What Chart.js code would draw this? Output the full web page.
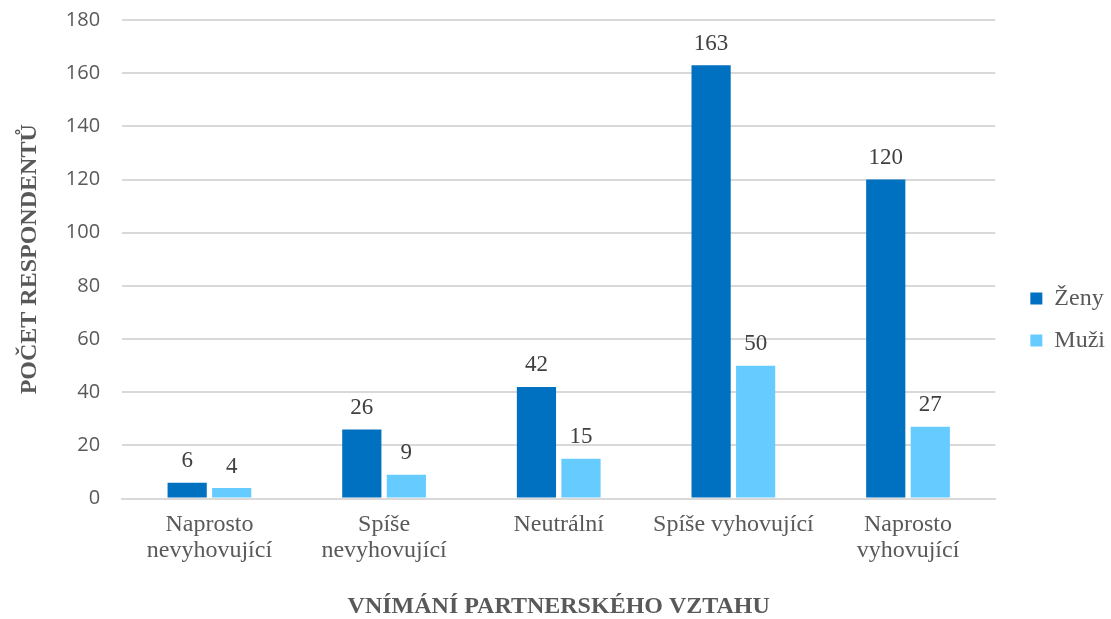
<!DOCTYPE html>
<html>
<head>
<meta charset="utf-8">
<script src="https://cdn.jsdelivr.net/npm/chart.js@4/dist/chart.umd.min.js"></script>
<style>
  html, body { margin: 0; padding: 0; background: #fff; }
  #wrap { width: 1111px; height: 619px; }
</style>
</head>
<body>
<div id="wrap"><canvas id="partnerChart"></canvas></div>
<script>
const categories = [
    ['Naprosto', 'nevyhovující'],
    ['Spíše', 'nevyhovující'],
    'Neutrální',
    'Spíše vyhovující',
    ['Naprosto', 'vyhovující']
];
const zeny = [6, 26, 42, 163, 120];
const muzi = [4, 9, 15, 50, 27];
const yTicks = [0, 20, 40, 60, 80, 100, 120, 140, 160, 180];

const serif = '"Liberation Serif", "Times New Roman", serif';
const sans = '"Open Sans", "Liberation Sans", sans-serif';

// labels above bars
const valueLabels = {
    id: 'valueLabels',
    afterDatasetsDraw(chart) {
        const ctx = chart.ctx;
        ctx.save();
        ctx.font = '23px ' + serif;
        ctx.fillStyle = '#404040';
        ctx.textAlign = 'center';
        ctx.textBaseline = 'bottom';
        chart.data.datasets.forEach(function (ds, i) {
            chart.getDatasetMeta(i).data.forEach(function (bar, j) {
                ctx.fillText(ds.data[j], bar.x, bar.y - 10);
            });
        });
        ctx.restore();
    }
};

// push the legend a bit further away from the plot
const legendGap = {
    id: 'legendGap',
    afterLayout(chart) {
        const lg = chart.legend;
        if (lg) {
            lg.left += 17;
            lg.right += 17;
        }
    }
};

const ctx = document.getElementById('partnerChart').getContext('2d');
new Chart(ctx, {
    type: 'bar',
    data: {
        labels: categories,
        datasets: [{
            label: 'Ženy',
            data: zeny,
            backgroundColor: '#0070C0',
            categoryPercentage: 0.51,
            barPercentage: 0.88
        }, {
            label: 'Muži',
            data: muzi,
            backgroundColor: '#66CCFF',
            categoryPercentage: 0.51,
            barPercentage: 0.88
        }]
    },
    options: {
        responsive: true,
        maintainAspectRatio: false,
        animation: false,
        layout: { padding: { top: 20, right: 13, bottom: 0, left: 15 } },
        plugins: {
            legend: {
                display: true,
                position: 'right',
                labels: {
                    boxWidth: 12,
                    boxHeight: 12,
                    padding: 18,
                    color: '#595959',
                    font: { family: serif, size: 24 }
                }
            },
            tooltip: { enabled: false }
        },
        scales: {
            x: {
                grid: { display: false },
                border: { color: '#d9d9d9', width: 2 },
                ticks: {
                    color: '#595959',
                    font: { family: serif, size: 24, lineHeight: 1.05 },
                    maxRotation: 0,
                    padding: 6
                },
                title: {
                    display: true,
                    text: 'VNÍMÁNÍ PARTNERSKÉHO VZTAHU',
                    color: '#595959',
                    font: { family: serif, size: 24, weight: 'bold', lineHeight: 1.0 },
                    padding: { top: 26, bottom: 0 }
                }
            },
            y: {
                min: 0,
                max: 180,
                afterBuildTicks(axis) {
                    axis.ticks = yTicks.map(function (v) { return { value: v }; });
                },
                grid: {
                    color: '#d9d9d9',
                    lineWidth: 2,
                    drawTicks: true,
                    tickLength: 20,
                    tickColor: 'rgba(0,0,0,0)'
                },
                border: { display: false },
                ticks: {
                    color: '#595959',
                    font: { family: sans, size: 20 },
                    padding: 2
                },
                title: {
                    display: true,
                    text: 'POČET RESPONDENTŮ',
                    color: '#595959',
                    font: { family: serif, size: 24, weight: 'bold' },
                    padding: { top: 0, bottom: 20 }
                }
            }
        }
    },
    plugins: [valueLabels, legendGap]
});
</script>
</body>
</html>
